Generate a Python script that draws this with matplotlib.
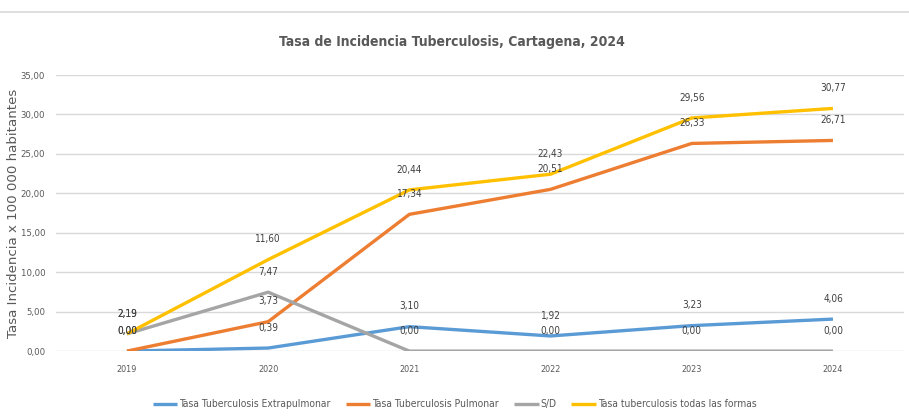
import matplotlib
matplotlib.use("Agg")
import matplotlib.pyplot as plt
from matplotlib.lines import Line2D

years = ["2019", "2020", "2021", "2022", "2023", "2024"]
extrapulmonar = [0.00, 0.39, 3.10, 1.92, 3.23, 4.06]
pulmonar = [0.00, 3.73, 17.34, 20.51, 26.33, 26.71]
sin_dato = [2.19, 7.47, 0.00, 0.00, 0.00, 0.00]
todas = [2.19, 11.60, 20.44, 22.43, 29.56, 30.77]

series = [
    ("Tasa Tuberculosis Extrapulmonar", extrapulmonar, "#5B9BD5"),
    ("Tasa Tuberculosis Pulmonar", pulmonar, "#ED7D31"),
    ("S/D", sin_dato, "#A5A5A5"),
    ("Tasa tuberculosis todas las formas", todas, "#FFC000"),
]

narrow = ["Liberation Sans Narrow", "DejaVu Sans"]

def fmt(v):
    return f"{v:.2f}".replace(".", ",")

fig = plt.figure(figsize=(9.09, 4.17), dpi=100)
ax = fig.add_axes([0.062, 0.158, 0.932, 0.662])

x = list(range(len(years)))
for name, vals, col in series:
    ax.plot(x, vals, color=col, lw=2.4, label=name, solid_capstyle="butt")
    for xi, v in zip(x, vals):
        ax.annotate(fmt(v), (xi, v), xytext=(0, 11), textcoords="offset points",
                    ha="center", va="bottom", fontsize=7.2, color="#404040",
                    family=narrow, fontstretch="condensed")

ax.set_xlim(-0.5, 5.5)
ax.set_ylim(0, 35)
ax.set_yticks(range(0, 36, 5))
ax.set_yticklabels([fmt(v) for v in range(0, 36, 5)], family=narrow,
                   fontstretch="condensed", fontsize=6.8, color="#595959")
ax.set_xticks(x)
ax.set_xticklabels(years, family=narrow, fontstretch="condensed",
                   fontsize=6.5, color="#595959")
ax.tick_params(length=0)
ax.tick_params(axis="x", pad=10)
ax.tick_params(axis="y", pad=8)
ax.grid(axis="y", color="#D9D9D9", lw=1)
ax.set_axisbelow(True)
for s in ax.spines.values():
    s.set_visible(False)

ax.set_ylabel("Tasa Incidencia x 100 000 habitantes", fontsize=9.6,
              color="#595959")
ax.yaxis.set_label_coords(-0.043, 0.5)

fig.text(0.497, 0.9, "Tasa de Incidencia Tuberculosis, Cartagena, 2024",
         ha="center", va="center", fontsize=10, fontweight="bold",
         color="#595959", family=narrow, fontstretch="condensed")

fig.add_artist(Line2D([0, 1], [0.971, 0.971], color="#D9D9D9", lw=1.2))

leg = ax.legend(loc="center", bbox_to_anchor=(0.47, -0.192), ncol=4,
                frameon=False, handlelength=2.4, handletextpad=0.15,
                columnspacing=1.5, prop={"family": narrow, "size": 7.4,
                                         "stretch": "condensed"})
for t in leg.get_texts():
    t.set_color("#595959")

fig.savefig("out.png", dpi=100)
